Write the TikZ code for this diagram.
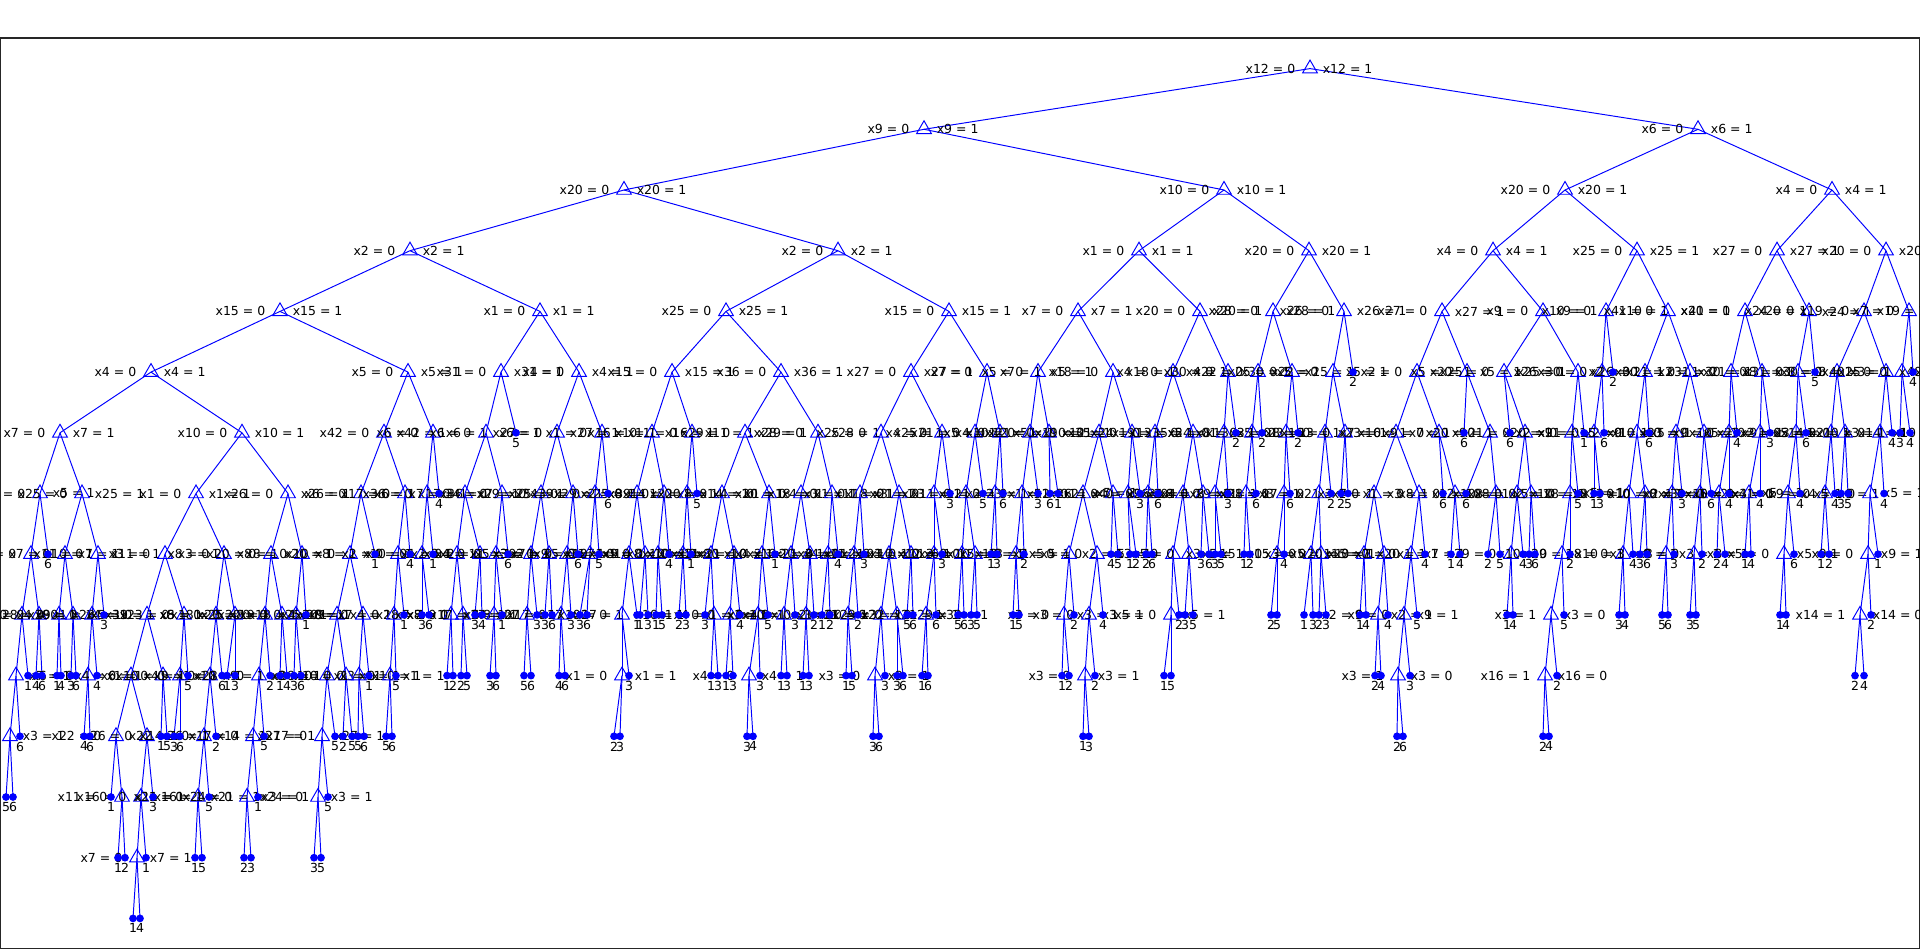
\documentclass[tikz,border=0pt]{standalone}
\usepackage{fontspec}
\setmainfont{DejaVu Sans}
\usetikzlibrary{shapes.geometric}
\tikzset{
  split/.style={regular polygon, regular polygon sides=3, draw=blue, line width=0.55pt, minimum size=0.34cm, inner sep=0pt},
  leaf/.style={circle, fill=blue, minimum size=0.155cm, inner sep=0pt},
  link/.style={blue, line width=0.55pt},
  lab/.style={font=\fontsize{7.1}{8}\selectfont, inner sep=0pt},
  num/.style={lab, label distance=0.5pt},
  vars/.style={label={[lab,label distance=5.1pt]180:x#1 = 0}, label={[lab,label distance=4pt]0:x#1 = 1}},
  varsr/.style={label={[lab,label distance=5.1pt]180:x#1 = 1}, label={[lab,label distance=4pt]0:x#1 = 0}},
}

% 内部节点 (名/父/x/层/变量)
\def\splits{
  B924/A1310/924/1/9, B1698/A1310/1698/1/6,
  C624/B924/624/2/20, C1224/B924/1224/2/10, C1565/B1698/1565/2/20, C1832/B1698/1832/2/4,
  D410/C624/410/3/2, D838/C624/838/3/2, D1139/C1224/1139/3/1, D1309/C1224/1309/3/20,
  D1493/C1565/1493/3/4, D1637/C1565/1637/3/25, D1777/C1832/1777/3/27, D1886/C1832/1886/3/20,
  E280/D410/280/4/15, E540/D410/540/4/1, E726/D838/726/4/25, E949/D838/949/4/15,
  E1078/D1139/1078/4/7, E1200/D1139/1200/4/20, E1273/D1309/1273/4/28, E1344/D1309/1344/4/26,
  E1442/D1493/1442/4/27, E1543/D1493/1543/4/9, E1606/D1637/1606/4/10, E1668/D1637/1668/4/41,
  E1745/D1777/1745/4/20, E1809/D1777/1809/4/24, E1864/D1886/1864/4/19, E1909/D1886/1909/4/7,
  F151/E280/151/5/4, F408/E280/408/5/5, F501/E540/501/5/31, F579/E540/579/5/4,
  F672/E726/672/5/15, F781/E726/781/5/36, F911/E949/911/5/27, F987/E949/987/5/7,
  F1038/E1078/1038/5/5, F1113/E1078/1113/5/18, F1173/E1200/1173/5/4, F1228/E1200/1228/5/30,
  F1258/E1273/1258/5/22, F1292/E1273/1292/5/25, F1333/E1344/1333/5/5, F1417/E1442/1417/5/2,
  F1467/E1442/1467/5/5, F1504/E1543/1504/5/25, F1578/E1543/1578/5/26, F1602/E1606/1602/5/30,
  F1645/E1668/1645/5/2, F1690/E1668/1690/5/21, F1731/E1745/1731/5/31, F1762/E1745/1762/5/30,
  F1798/E1809/1798/5/8, F1837/E1864/1837/5/3, F1886/E1864/1886/5/40, F1902/E1909/1902/5/25,
  G60/F151/60/6/7, G242/F151/242/6/10, G384/F408/384/6/42, G433/F408/433/6/6,
  G486/F501/486/6/6, G557/F579/557/6/27, G602/F579/602/6/1, G652/F672/652/6/16,
  G692/F672/692/6/11, G745/F781/745/6/29, G818/F781/818/6/28, G881/F911/881/6/25,
  G942/F911/942/6/4, G975/F987/975/6/21, G1000/F987/1000/6/5, G1030/F1038/1030/6/10,
  G1049/F1038/1049/6/12, G1099/F1113/1099/6/19, G1132/F1113/1132/6/35, G1155/F1173/1155/6/24,
  G1193/F1173/1193/6/13, G1224/F1228/1224/6/5, G1252/F1258/1252/6/8, G1286/F1292/1286/6/3,
  G1325/F1333/1325/6/23, G1345/F1333/1345/6/16, G1396/F1417/1396/6/7, G1439/F1417/1439/6/9,
  G1490/F1467/1490/6/20, G1525/F1504/1525/6/21, G1572/F1578/1572/6/2, G1594/F1602/1594/6/9,
  G1637/F1645/1637/6/5, G1676/F1690/1676/6/10, G1704/F1690/1704/6/23, G1729/F1731/1729/6/9,
  G1760/F1762/1760/6/5, G1796/F1798/1796/6/2, G1831/F1837/1831/6/3, G1845/F1837/1845/6/14,
  G1880/F1886/1880/6/10,
  H40/G60/40/7/5, H82/G60/82/7/25, H196/G242/196/7/1, H288/G242/288/7/26,
  H361/G384/361/7/6, H405/G384/405/7/17, H427/G433/427/7/36, H465/G486/465/7/7,
  H502/G486/502/7/34, H541/G557/541/7/29, H573/G557/573/7/25, H595/G602/595/7/39,
  H637/G652/637/7/2, H664/G652/664/7/8, H687/G692/687/7/14, H722/G745/722/7/20,
  H769/G745/769/7/4, H801/G818/801/7/1, H832/G818/832/7/18, H860/G881/860/7/3,
  H899/G881/899/7/11, H934/G942/934/7/21, H966/G975/966/7/23, H995/G1000/995/7/1,
  H1022/G1030/1022/7/2, H1083/G1099/1083/7/5, H1113/G1099/1113/7/26, H1128/G1132/1128/7/21,
  H1148/G1155/1148/7/4, H1183/G1193/1183/7/9, H1203/G1193/1203/7/2, H1215/G1224/1215/7/8,
  H1246/G1252/1246/7/3, H1284/G1286/1284/7/21, H1319/G1325/1319/7/7, H1374/G1396/1374/7/3,
  H1419/G1396/1419/7/1, H1455/G1439/1455/7/8, H1496/G1490/1496/7/2, H1517/G1525/1517/7/10,
  H1531/G1525/1531/7/8, H1570/G1572/1570/7/5, H1629/G1637/1629/7/8, H1645/G1637/1645/7/13,
  H1672/G1676/1672/7/10, H1700/G1704/1700/7/2, H1719/G1729/1719/7/3, H1749/G1760/1749/7/5,
  H1788/G1796/1788/7/4, H1825/G1831/1825/7/9, H1870/G1880/1870/7/5,
  I31/H40/31/8/10, I65/H82/65/8/7, I98/H82/98/8/11, I165/H196/165/8/3,
  I224/H196/224/8/8, I271/H288/271/8/20, I302/H288/302/8/8, I350/H361/350/8/10,
  I398/H405/398/8/2, I422/H427/422/8/4, I457/H465/457/8/1, I480/H465/480/8/3,
  I496/H502/496/8/2, I531/H541/531/8/5, I549/H541/549/8/3, I567/H573/567/8/7,
  I590/H595/590/8/9, I629/H637/629/8/10, I645/H637/645/8/4, I658/H664/658/8/1,
  I683/H687/683/8/8, I711/H722/711/8/10, I734/H722/734/8/2, I762/H769/762/8/21,
  I791/H801/791/8/4, I810/H801/810/8/1, I828/H832/828/8/2, I854/H860/854/8/3,
  I889/H899/889/8/11, I911/H899/911/8/6, I934/H934/934/8/10, I962/H966/962/8/12,
  I975/H966/975/8/3, I1016/H1022/1016/8/5, I1069/H1083/1069/8/2, I1097/H1083/1097/8/5,
  I1173/H1183/1173/8/3, I1189/H1183/1189/8/5, I1277/H1284/1277/8/5, I1311/H1319/1311/8/15,
  I1321/H1319/1321/8/3, I1364/H1374/1364/8/20, I1384/H1374/1384/8/1, I1411/H1419/1411/8/7,
  I1511/H1517/1511/8/29, I1562/H1570/1562/8/10, I1623/H1629/1623/8/8, I1666/H1672/1666/8/3,
  I1694/H1700/1694/8/8, I1784/H1788/1784/8/5, I1868/H1870/1868/8/9,
  J22/I31/22/9/8, J39/I31/39/9/1, J59/I65/59/9/28, J73/I65/73/9/4,
  J92/I98/92/9/39, J147/I165/147/9/5, J184/I165/184/9/23, J216/I224/216/9/8,
  J235/I224/235/9/18, J265/I271/265/9/25, J282/I271/282/9/20, J296/I302/296/9/9,
  J337/I350/337/9/4, J363/I350/363/9/28, J394/I398/394/9/7, J451/I457/451/9/7,
  J463/I457/463/9/8, J494/I496/494/9/17, J527/I531/527/9/17, J561/I567/561/9/27,
  J622/I629/622/9/10, J714/I711/714/9/1, J730/I734/730/9/4, J758/I762/758/9/1,
  J784/I791/784/9/3, J806/I810/806/9/10, J848/I854/848/9/2, J881/I889/881/9/21,
  J897/I889/897/9/29, J926/I934/926/9/32, J1064/I1069/1064/9/3, J1089/I1097/1089/9/3,
  J1171/I1173/1171/9/5, J1378/I1384/1378/9/2, J1404/I1411/1404/9/9,
  K16/J22/16/10/7, K88/J92/88/10/6, K131/J147/131/10/4, K163/J147/163/10/1,
  K180/J184/180/10/10, K210/J216/210/10/9, K259/J265/259/10/28, K327/J337/327/10/3,
  K346/J337/346/10/1, K359/J363/359/10/10, K390/J394/390/10/1, K622/J622/622/10/1,
  K749/J758/749/10/4, K875/J881/875/10/3, K1085/J1089/1085/10/3,
  L10/K16/10/11/3, L116/K131/116/11/22, L147/K131/147/11/26, L204/K210/204/11/14,
  L253/K259/253/11/17, L322/K327/322/11/27,
  M122/L116/122/12/11, M141/L147/141/12/16, M198/L204/198/12/21, M247/L253/247/12/24,
  M318/L322/318/12/3,
  N137/M141/137/13/7}

% 反向标注的节点
\def\splitsr{J1551/I1562/1551/9/3, J1860/I1868/1860/9/14,
  K1398/J1404/1398/10/3, K1545/J1551/1545/10/16}

% 叶节点 (名/父/x/层/类别)
\def\leaves{
  F1353/E1344/1353/5/2, F1613/E1606/1613/5/2, F1815/E1809/1815/5/5, F1913/E1909/1913/5/4,
  G516/F501/516/6/5, G1236/F1228/1236/6/2, G1262/F1258/1262/6/2, G1298/F1292/1298/6/2,
  G1464/F1467/1464/6/6, G1510/F1504/1510/6/6, G1584/F1578/1584/6/1, G1604/F1602/1604/6/6,
  G1649/F1645/1649/6/6, G1737/F1731/1737/6/4, G1770/F1762/1770/6/3, G1806/F1798/1806/6/6,
  G1892/F1886/1892/6/4, G1900/F1902/1900/6/3, G1910/F1902/1910/6/4,
  H439/G433/439/7/4, H608/G602/608/7/6, H697/G692/697/7/5, H950/G942/950/7/3,
  H983/G975/983/7/5, H1003/G1000/1003/7/6, H1038/G1030/1038/7/3, H1050/G1049/1050/7/6,
  H1058/G1049/1058/7/1, H1140/G1132/1140/7/3, H1158/G1155/1158/7/6, H1228/G1224/1228/7/3,
  H1256/G1252/1256/7/6, H1290/G1286/1290/7/6, H1331/G1325/1331/7/2, H1341/G1345/1341/7/2,
  H1348/G1345/1348/7/5, H1443/G1439/1443/7/6, H1466/G1490/1466/7/6, H1578/G1572/1578/7/5,
  H1594/G1594/1594/7/1, H1600/G1594/1600/7/3, H1682/G1676/1682/7/3,
  H1711/G1704/1711/7/6, H1729/G1729/1729/7/4, H1760/G1760/1760/7/4, H1800/G1796/1800/7/4,
  H1835/G1831/1835/7/4, H1841/G1845/1841/7/3, H1848/G1845/1848/7/5, H1884/G1880/1884/7/4,
  I48/H40/48/8/6, I375/H361/375/8/1, I410/H405/410/8/4, I433/H427/433/8/1,
  I508/H502/508/8/6, I578/H573/578/8/6, I599/H595/599/8/5, I669/H664/669/8/4,
  I691/H687/691/8/1, I775/H769/775/8/1, I838/H832/838/8/4, I864/H860/864/8/3,
  I942/H934/942/8/3, I991/H995/991/8/1, I997/H995/997/8/3, I1024/H1022/1024/8/2,
  I1111/H1113/1111/8/4, I1118/H1113/1118/8/5, I1130/H1128/1130/8/1, I1136/H1128/1136/8/2,
  I1146/H1148/1146/8/2, I1152/H1148/1152/8/6, I1201/H1203/1201/8/3, I1209/H1203/1209/8/6,
  I1215/H1215/1215/8/3, I1221/H1215/1221/8/5, I1244/H1246/1244/8/1, I1250/H1246/1250/8/2,
  I1284/H1284/1284/8/4, I1425/H1419/1425/8/4, I1451/H1455/1451/8/1, I1460/H1455/1460/8/4,
  I1488/H1496/1488/8/2, I1500/H1496/1500/8/5, I1523/H1517/1523/8/4, I1529/H1531/1529/8/3,
  I1535/H1531/1535/8/6, I1570/H1570/1570/8/2, I1633/H1629/1633/8/4, I1640/H1645/1640/8/3,
  I1647/H1645/1647/8/6, I1674/H1672/1674/8/3,
  I1702/H1700/1702/8/2, I1717/H1719/1717/8/2, I1725/H1719/1725/8/4, I1745/H1749/1745/8/1,
  I1751/H1749/1751/8/4, I1794/H1788/1794/8/6, I1821/H1825/1821/8/1, I1829/H1825/1829/8/2,
  I1878/H1870/1878/8/1,
  J104/I98/104/9/3, J306/I302/306/9/1, J404/I398/404/9/1, J422/I422/422/9/3,
  J429/I422/429/9/6, J475/I480/475/9/3, J482/I480/482/9/4, J502/I496/502/9/1,
  J537/I531/537/9/3, J545/I549/545/9/3, J552/I549/552/9/6, J571/I567/571/9/3,
  J580/I590/580/9/3, J587/I590/587/9/6, J637/I629/637/9/1, J640/I645/640/9/1,
  J648/I645/648/9/3, J656/I658/656/9/1, J662/I658/662/9/5, J679/I683/679/9/2,
  J686/I683/686/9/3, J705/I711/705/9/3, J740/I734/740/9/4, J768/I762/768/9/5,
  J795/I791/795/9/3, J814/I810/814/9/2, J822/I828/822/9/1, J830/I828/830/9/2,
  J858/I854/858/9/2, J907/I911/907/9/5, J913/I911/913/9/6, J936/I934/936/9/6,
  J958/I962/958/9/5, J964/I962/964/9/6, J971/I975/971/9/3, J977/I975/977/9/5,
  J1013/I1016/1013/9/1, J1019/I1016/1019/9/5, J1074/I1069/1074/9/2, J1103/I1097/1103/9/4,
  J1179/I1173/1179/9/2, J1185/I1189/1185/9/3, J1193/I1189/1193/9/5, J1271/I1277/1271/9/2,
  J1277/I1277/1277/9/5, J1304/I1311/1304/9/1, J1313/I1311/1313/9/3, J1319/I1321/1319/9/2,
  J1326/I1321/1326/9/3, J1360/I1364/1360/9/1, J1366/I1364/1366/9/4, J1388/I1384/1388/9/4,
  J1417/I1411/1417/9/5, J1507/I1511/1507/9/1, J1513/I1511/1513/9/4, J1564/I1562/1564/9/5,
  J1619/I1623/1619/9/3, J1625/I1623/1625/9/4, J1662/I1666/1662/9/5, J1668/I1666/1668/9/6,
  J1690/I1694/1690/9/3, J1696/I1694/1696/9/5, J1780/I1784/1780/9/1, J1786/I1784/1786/9/4,
  J1871/I1868/1871/9/2,
  K28/J22/28/10/1, K36/J39/36/10/4, K42/J39/42/10/6, K57/J59/57/10/1,
  K61/J59/61/10/4, K71/J73/71/10/3, K76/J73/76/10/6, K97/J92/97/10/4,
  K188/J184/188/10/5, K222/J216/222/10/6, K227/J235/227/10/1, K235/J235/235/10/3,
  K270/J265/270/10/2, K280/J282/280/10/1, K287/J282/287/10/4, K294/J296/294/10/3,
  K301/J296/301/10/6, K369/J363/369/10/1, K396/J394/396/10/5, K447/J451/447/10/1,
  K453/J451/453/10/2, K461/J463/461/10/2, K467/J463/467/10/5, K490/J494/490/10/3,
  K496/J494/496/10/6, K524/J527/524/10/5, K531/J527/531/10/6, K559/J561/559/10/4,
  K565/J561/565/10/6, K629/J622/629/10/3, K711/J714/711/10/1, K718/J714/718/10/3,
  K726/J730/726/10/1, K733/J730/733/10/3, K760/J758/760/10/3, K781/J784/781/10/1,
  K787/J784/787/10/3, K803/J806/803/10/1, K809/J806/809/10/3, K846/J848/846/10/1,
  K852/J848/852/10/5, K885/J881/885/10/3, K897/J897/897/10/3, K903/J897/903/10/6,
  K922/J926/922/10/1, K928/J926/928/10/6, K1062/J1064/1062/10/1, K1069/J1064/1069/10/2,
  K1095/J1089/1095/10/2, K1164/J1171/1164/10/1, K1171/J1171/1171/10/5, K1375/J1378/1375/10/2,
  K1381/J1378/1381/10/4, K1410/J1404/1410/10/3, K1557/J1551/1557/10/2, K1855/J1860/1855/10/2,
  K1864/J1860/1864/10/4,
  L20/K16/20/11/6, L84/K88/84/11/4, L90/K88/90/11/6, L161/K163/161/11/1,
  L167/K163/167/11/5, L174/K180/174/11/3, L180/K180/180/11/6, L216/K210/216/11/2,
  L264/K259/264/11/5, L335/K327/335/11/5, L343/K346/343/11/2, L352/K346/352/11/5,
  L358/K359/358/11/5, L364/K359/364/11/6, L386/K390/386/11/5, L392/K390/392/11/6,
  L614/K622/614/11/2, L620/K622/620/11/3, L747/K749/747/11/3, L753/K749/753/11/4,
  L873/K875/873/11/3, L879/K875/879/11/6, L1083/K1085/1083/11/1, L1089/K1085/1089/11/3,
  L1397/K1398/1397/11/2, L1403/K1398/1403/11/6, L1543/K1545/1543/11/2, L1549/K1545/1549/11/4,
  M6/L10/6/12/5, M13/L10/13/12/6, M111/L116/111/12/1, M153/L147/153/12/3,
  M209/L204/209/12/5, M258/L253/258/12/1, M328/L322/328/12/5,
  N118/M122/118/13/1, N125/M122/125/13/2, N146/M141/146/13/1, N195/M198/195/13/1,
  N202/M198/202/13/5, N244/M247/244/13/2, N251/M247/251/13/3, N314/M318/314/13/3,
  N321/M318/321/13/5,
  O133/N137/133/14/1, O140/N137/140/14/4}

\begin{document}
\begin{tikzpicture}[x=0.02cm, y=-0.02cm]
    \useasboundingbox (0,0) rectangle (1920,949);

    % 绘制 边框
    \draw[black!85, line width=0.6pt] (0.5,38) rectangle (1919.5,948.5);

    % 绘制 连线 (先放坐标, 连线在文字下面)
    \coordinate (A1310) at (1310,68.6);
    \foreach \n/\p/\x/\lv/\idx in \splits {
        \pgfmathsetmacro\yy{68.6+60.7*\lv}
        \coordinate (\n) at (\x,\yy);
        \draw[link] (\p) -- (\n);
    }
    \foreach \n/\p/\x/\lv/\idx in \splitsr {
        \pgfmathsetmacro\yy{68.6+60.7*\lv}
        \coordinate (\n) at (\x,\yy);
        \draw[link] (\p) -- (\n);
    }
    \foreach \n/\p/\x/\lv/\txt in \leaves {
        \pgfmathsetmacro\yy{68.6+60.7*\lv}
        \coordinate (\n) at (\x,\yy);
        \draw[link] (\p) -- (\n);
    }

    % 绘制 根节点
    \node[split, vars=12] (A1310) at (1310,68.6) {};

    % 绘制 内部节点
    \foreach \n/\p/\x/\lv/\idx in \splits {
        \pgfmathsetmacro\yy{68.6+60.7*\lv}
        \node[split, vars=\idx] (\n) at (\x,\yy) {};
    }
    \foreach \n/\p/\x/\lv/\idx in \splitsr {
        \pgfmathsetmacro\yy{68.6+60.7*\lv}
        \node[split, varsr=\idx] (\n) at (\x,\yy) {};
    }

    % 绘制 叶节点
    \foreach \n/\p/\x/\lv/\txt in \leaves {
        \pgfmathsetmacro\yy{68.6+60.7*\lv}
        \node[leaf, label={[num]below:\txt}] (\n) at (\x,\yy) {};
    }
\end{tikzpicture}
\end{document}
